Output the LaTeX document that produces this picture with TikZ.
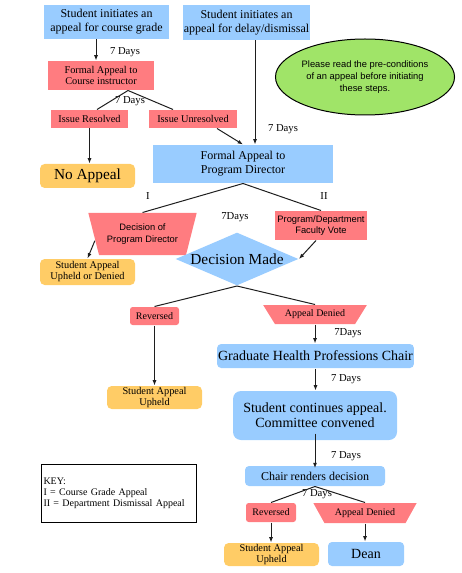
\documentclass[tikz,border=0pt]{standalone}
\usepackage{fontspec}
\setmainfont{Liberation Serif}
\setsansfont{Liberation Sans}
\usetikzlibrary{shapes.geometric,arrows.meta}

\tikzset{every picture/.style={line width=0.75pt}}
\tikzset{
  blueBox/.style={fill={rgb, 255:red, 153; green, 204; blue, 255 }, inner sep=0.75pt, align=center},
  redBox/.style={fill={rgb, 255:red, 255; green, 124; blue, 128 }, inner sep=0.75pt, align=center, font=\rmfamily\fontsize{7.75}{8.25}\selectfont},
  orangeBox/.style={fill={rgb, 255:red, 255; green, 204; blue, 102 }, rounded corners=3.5pt, inner sep=0.75pt, align=center},
  redTrap/.style={redBox, trapezium, shape border rotate=180, trapezium stretches=true, inner sep=0.5pt},
  daysText/.style={inner sep=0.75pt, font=\rmfamily\fontsize{8}{9}\selectfont},
  flowLine/.style={color={rgb, 255:red, 30; green, 30; blue, 30 }},
  flowArrow/.style={flowLine, -{Latex[length=4pt,width=3pt]}},
}

\begin{document}
\begin{tikzpicture}[x=0.75pt,y=0.75pt,yscale=-1,xscale=1]
\useasboundingbox (0,0) rectangle (461,573);

% Text Node
\node [blueBox, minimum width=93.75pt, minimum height=25.5pt, font=\rmfamily\fontsize{9}{10.5}\selectfont] (gradeStart) at (106.5,22) {Student initiates an\\appeal for course grade};
% Text Node
\node [blueBox, minimum width=93.75pt, minimum height=26.25pt, font=\rmfamily\fontsize{9}{10.5}\selectfont] (dismissStart) at (246.5,22.5) {Student initiates an\\appeal for delay/dismissal};
% Text Node
\node [ellipse, draw, fill={rgb, 255:red, 160; green, 228; blue, 104 }, minimum width=106.5pt, minimum height=57pt, inner sep=0pt, align=center, font=\sffamily\fontsize{7}{9}\selectfont] (note) at (365,77) {Please read the pre-conditions\\of an appeal before initiating\\these steps.};
% Text Node
\node [redBox, minimum width=79.5pt, minimum height=21.75pt] (courseInstr) at (101,75.5) {Formal Appeal to\\Course instructor};
% Text Node
\node [redBox, minimum width=57.75pt, minimum height=13.5pt] (resolved) at (89.5,119) {Issue Resolved};
% Text Node
\node [redBox, minimum width=66pt, minimum height=13.5pt] (unresolved) at (193,119) {Issue Unresolved};
% Text Node
\node [orangeBox, minimum width=71.25pt, minimum height=18pt, font=\rmfamily\fontsize{11.5}{12}\selectfont] (noAppeal) at (87.5,176) {No Appeal};
% Text Node
\node [blueBox, minimum width=135pt, minimum height=28.5pt, font=\rmfamily\fontsize{9}{10.5}\selectfont] (programDir) at (243,164) {Formal Appeal to\\Program Director};
% Text Node
\node [redTrap, trapezium angle=68, minimum width=81.75pt, minimum height=31.5pt, font=\sffamily\fontsize{7}{9}\selectfont] (decisionPD) at (142.5,234) {Decision of\\Program Director};
% Text Node
\node [orangeBox, minimum width=71.25pt, minimum height=19.5pt, font=\rmfamily\fontsize{7.75}{8.25}\selectfont] (upheldDenied) at (87.5,272) {Student Appeal\\Upheld or Denied};
% Text Node
\node [redBox, minimum width=69pt, minimum height=21.75pt, font=\sffamily\fontsize{7}{8.5}\selectfont] (facultyVote) at (321,225.5) {Program/Department\\Faculty Vote};
% Text Node
\node [diamond, fill={rgb, 255:red, 153; green, 204; blue, 255 }, minimum width=92.25pt, minimum height=39.75pt, inner sep=0pt, font=\rmfamily\fontsize{11.5}{12}\selectfont] (decision) at (237,259) {\makebox[0pt]{Decision Made}};
% Text Node
\node [redBox, rounded corners=2pt, minimum width=36.75pt, minimum height=13.5pt, font=\rmfamily\fontsize{7.5}{8}\selectfont] (reversedA) at (154.5,316) {Reversed};
% Text Node
\node [orangeBox, minimum width=71.25pt, minimum height=17.25pt, font=\rmfamily\fontsize{7.75}{8.25}\selectfont] (upheldA) at (154.5,397.5) {Student Appeal\\Upheld};
% Text Node
\node [redTrap, trapezium angle=49, minimum width=78pt, minimum height=14.25pt, font=\rmfamily\fontsize{7.5}{8}\selectfont] (deniedA) at (315,314.5) {Appeal Denied};
% Text Node
\node [blueBox, rounded corners=3pt, minimum width=146.25pt, minimum height=18pt, font=\rmfamily\fontsize{10.5}{12}\selectfont] (chairGHP) at (315.5,356) {Graduate Health Professions Chair};
% Text Node
\node [blueBox, rounded corners=6pt, minimum width=123pt, minimum height=36.75pt, font=\rmfamily\fontsize{10.5}{11.25}\selectfont] (committee) at (315,415.5) {Student continues appeal.\\Committee convened};
% Text Node
\node [blueBox, rounded corners=3pt, minimum width=105pt, minimum height=15pt, font=\rmfamily\fontsize{9}{10}\selectfont] (chairDecision) at (315,476) {Chair renders decision};
% Text Node
\node [redBox, rounded corners=2pt, minimum width=37.5pt, minimum height=14.25pt, font=\rmfamily\fontsize{7.5}{8}\selectfont] (reversedB) at (271,512.5) {Reversed};
% Text Node
\node [redTrap, trapezium angle=51, minimum width=78pt, minimum height=15pt, font=\rmfamily\fontsize{7.5}{8}\selectfont] (deniedB) at (365,513) {Appeal Denied};
% Text Node
\node [orangeBox, minimum width=71.25pt, minimum height=17.25pt, font=\rmfamily\fontsize{7.75}{8.25}\selectfont] (upheldB) at (271.5,554.5) {Student Appeal\\Upheld};
% Text Node
\node [blueBox, rounded corners=3pt, minimum width=57pt, minimum height=18pt, font=\rmfamily\fontsize{10.5}{12}\selectfont] (dean) at (366,554) {Dean};
% Text Node
\node [draw, fill=white, text width=112.5pt, inner xsep=1.875pt, minimum height=43.5pt, align=left, font=\rmfamily\fontsize{7.5}{8.25}\selectfont] (key) at (118.5,493) {KEY:\\I = Course Grade Appeal\\II = Department Dismissal Appeal};

% Text Node
\node [daysText] (daysA) at (125,52) {7 Days};
% Text Node
\node [daysText] (daysB) at (130,101) {7 Days};
% Text Node
\node [daysText] (daysC) at (283,129) {7 Days};
% Text Node
\node [daysText] (daysD) at (235,217) {7Days};
% Text Node
\node [daysText] (daysE) at (348,333) {7Days};
% Text Node
\node [daysText] (daysF) at (346,379) {7 Days};
% Text Node
\node [daysText] (daysG) at (346,456) {7 Days};
% Text Node
\node [daysText] (daysH) at (317,494) {7 Days};
% Text Node
\node [daysText] (markI) at (148,196) {I};
% Text Node
\node [daysText] (markII) at (324,196) {II};

%Straight Lines
\draw [flowArrow] ([xshift=-7.875pt]gradeStart.south) -- ([xshift=-3.75pt]courseInstr.north);
%Straight Lines
\draw [flowLine] ([xshift=20.25pt]courseInstr.south) -- ([xshift=5.625pt]resolved.north);
%Straight Lines
\draw [flowLine] ([xshift=20.25pt]courseInstr.south) -- ([xshift=-15pt]unresolved.north);
%Straight Lines
\draw [flowArrow] (resolved.south) -- (resolved.south |- noAppeal.north);
%Straight Lines
\draw [flowArrow] ([xshift=18pt]unresolved.south) -- (programDir.north);
%Straight Lines
\draw [flowArrow] ([xshift=6.375pt]dismissStart.south) -- ([xshift=9pt]programDir.north);
%Straight Lines
\draw [flowLine] (programDir.south) -- (decisionPD.north);
%Straight Lines
\draw [flowLine] (programDir.south) -- (facultyVote.north);
%Straight Lines
\draw [flowArrow] (decisionPD.188) -- (upheldDenied.north);
%Straight Lines
\draw [flowArrow] ([xshift=-3.75pt]facultyVote.south) -- (decision.east);
%Straight Lines
\draw [flowLine] (decision.south) -- (reversedA.north);
%Straight Lines
\draw [flowLine] (decision.south) -- (deniedA.north);
%Straight Lines
\draw [flowArrow] (reversedA.south) -- (upheldA.north);
%Straight Lines
\draw [flowArrow] (deniedA.south) -- (deniedA.south |- chairGHP.north);
%Straight Lines
\draw [flowArrow] (chairGHP.south) -- (chairGHP.south |- committee.north);
%Straight Lines
\draw [flowArrow] ([yshift=-5.25pt]committee.south) -- ([yshift=2pt]chairDecision.north);
%Straight Lines
\draw [flowLine] (chairDecision.south) -- (reversedB.north);
%Straight Lines
\draw [flowLine] (chairDecision.south) -- (deniedB.north);
%Straight Lines
\draw [flowArrow] (reversedB.south) -- (reversedB.south |- upheldB.north);
%Straight Lines
\draw [flowArrow] (deniedB.south) -- (deniedB.south |- dean.north);
\end{tikzpicture}
\end{document}
